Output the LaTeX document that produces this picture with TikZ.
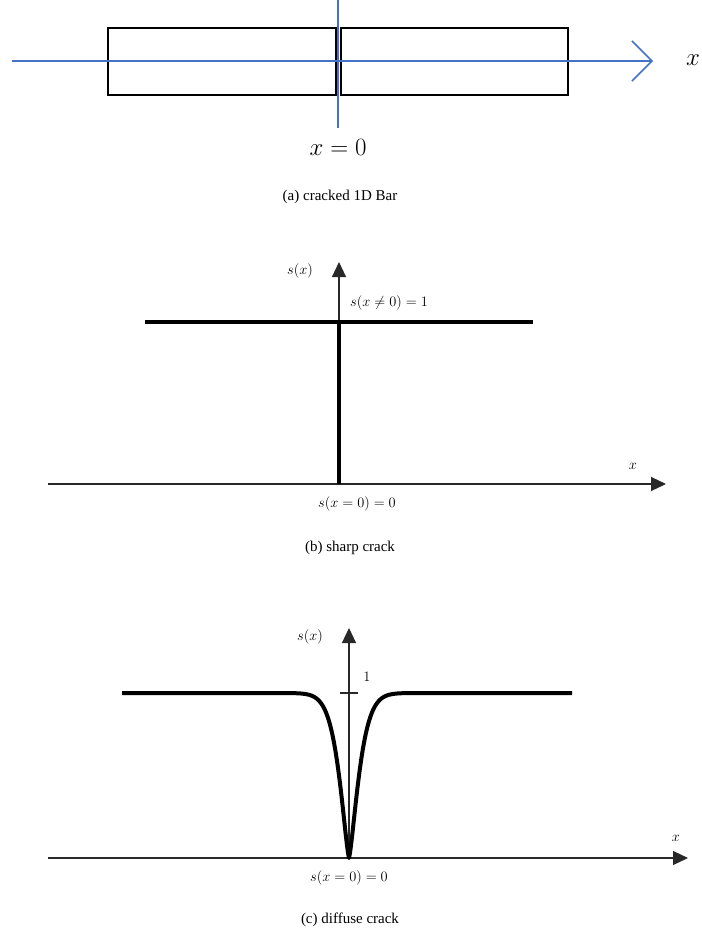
\documentclass[tikz,border=0pt]{standalone}
\usepackage{fontspec}
\setmainfont{Liberation Serif}
\usepackage{xcolor}
\usepackage{tikz}
\usetikzlibrary{arrows.meta,positioning,calc}
\definecolor{mAxisBlue}{RGB}{68,114,196}
\definecolor{mInk}{RGB}{0,0,0}
\definecolor{mGrey}{RGB}{40,40,40}
\tikzset{
barbox/.style={rectangle,draw=mInk,line width=1.7pt,minimum height=67pt,inner sep=0pt},
baraxis/.style={draw=mAxisBlue,line width=1.5pt},
plotaxis/.style={draw=mGrey,line width=1.1pt,-{Triangle[length=15pt,width=14pt]}},
damage/.style={draw=mInk,line width=4pt},
caplabel/.style={font=\fontsize{15}{18}\selectfont,inner sep=0pt},
mathlabel/.style={font=\fontsize{15.5}{18}\selectfont,inner sep=0pt},
biglabel/.style={font=\fontsize{24}{28}\selectfont,inner sep=0pt}
}

\begin{document}
\begin{tikzpicture}[x=1pt,y=-1pt]
\useasboundingbox[fill=white] (0,0) rectangle (702,938);
% (a) bar with crack
\node[barbox,minimum width=228pt] (barL) at (222,61.5) {};
\node[barbox,minimum width=227pt] (barR) at (454.5,61.5) {};
\coordinate (axL) at (12,61); \coordinate (axR) at (653,61);
\coordinate (crTop) at (338,0); \coordinate (crBot) at (338,128);
\draw[baraxis,-{Straight Barb[length=20pt,width=40pt,line width=1.5pt]}] (axL)--(axR);
\draw[baraxis] (crTop)--(crBot);
\node[biglabel] (xa) at (693,60) {$x$};
\node[biglabel] (xzero) at (338,147) {$x = 0$};
\node[caplabel] (capa) at (340,197) {(a) cracked 1D Bar};
% (b) sharp crack
\coordinate (ob) at (339,484);
\coordinate (ybTip) at (339,262); \coordinate (xbL) at (48,484); \coordinate (xbTip) at (666,484);
\coordinate (pbL) at (145,322); \coordinate (pbR) at (533,322); \coordinate (pbM) at (339,322);
\draw[plotaxis] (xbL)--(xbTip);
\draw[plotaxis] (ob)--(ybTip);
\draw[damage] (pbL)--(pbR);
\draw[damage,line cap=butt] (pbM)--(ob);
\node[mathlabel] (sb) at (300,271) {$s(x)$};
\node[mathlabel,anchor=west] (sbone) at (350,303) {$s(x\neq 0) = 1$};
\node[mathlabel] (xb) at (633,466) {$x$};
\node[mathlabel] (sbzero) at (357,504) {$s(x = 0) = 0$};
\node[caplabel] (capb) at (350,548) {(b) sharp crack};
% (c) diffuse crack
\coordinate (oc) at (349,858);
\coordinate (ycTip) at (349,628); \coordinate (xcL) at (48,858); \coordinate (xcTip) at (688,858);
\coordinate (pcL) at (122,693); \coordinate (pcR) at (572,693);
\coordinate (tkL) at (340,693); \coordinate (tkR) at (358,693);
\draw[plotaxis] (xcL)--(xcTip);
\draw[plotaxis] (oc)--(ycTip);
\draw[draw=mGrey,line width=1.1pt] (tkL)--(tkR);
\draw[damage,line join=round] (pcL)--(289,693)
  -- plot[domain=-60:60,samples=121] ({349+\x},{858-165*(1-exp(-pow(abs(\x)/13.1,1.35)))})
  -- (pcR);
\node[mathlabel] (sc) at (310,637) {$s(x)$};
\node[mathlabel] (onec) at (367,677) {$1$};
\node[mathlabel] (xc) at (676,838) {$x$};
\node[mathlabel] (sczero) at (349,878) {$s(x = 0) = 0$};
\node[caplabel] (capc) at (350,920) {(c) diffuse crack};
\end{tikzpicture}
\end{document}
